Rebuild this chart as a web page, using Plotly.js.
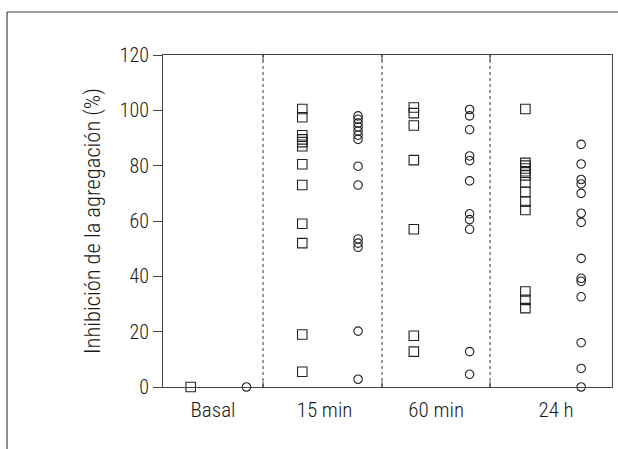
<!DOCTYPE html>
<html>
<head>
<meta charset="utf-8">
<script src="https://cdn.plot.ly/plotly-3.0.1.min.js"></script>
<style>
  html, body { margin: 0; padding: 0; background: #fff; }
  #chart { width: 618px; height: 449px; }
</style>
</head>
<body>
<div id="chart"></div>
<script>
// Categories (time points)
var categories = ["Basal", "15 min", "60 min", "24 h"];

// Group 1 (squares) values per time point
var squaresBasal = [0];
var squares15 = [100.5, 97.5, 91, 89.5, 88.5, 87, 80.5, 73, 59, 52, 19, 5.5];
var squares60 = [101, 99, 94.5, 82, 57, 18.5, 12.8];
var squares24 = [100.5, 81, 80, 79, 78, 76.5, 74, 70.5, 67, 64, 34.5, 31.5, 28.5];

// Group 2 (circles) values per time point
var circlesBasal = [0];
var circles15 = [98, 96.8, 95.4, 94, 92.5, 91, 89.5, 79.8, 73, 53.5, 52, 50.5, 20.2, 2.8];
var circles60 = [100.3, 98, 93, 83.5, 81.8, 74.5, 62.6, 60.5, 57, 12.8, 4.6];
var circles24 = [87.7, 80.6, 75, 73.4, 70, 62.8, 59.5, 46.5, 39.3, 38.2, 32.6, 16, 6.7, 0];

// Tick / layout helpers
var yTicks = [0, 20, 40, 60, 80, 100, 120];
var labelPos = [0.4, 2.4, 4.4, 6.55];
var dividers = [1.297, 3.43, 5.367];

var squareSets = [squaresBasal, squares15, squares60, squares24];
var circleSets = [circlesBasal, circles15, circles60, circles24];

function expand(sets, offset) {
  var xs = [], ys = [];
  sets.forEach(function (vals, i) {
    vals.forEach(function (v) { xs.push(2 * i + offset); ys.push(v); });
  });
  return { x: xs, y: ys };
}
var sq = expand(squareSets, 0);
var ci = expand(circleSets, 1);

var ink = "#222";
var txt = "#1a1a1a";
var fontFam = "'Roboto Condensed', 'Arial Narrow', sans-serif";

var traces = [
  {
    x: sq.x, y: sq.y, type: "scatter", mode: "markers", cliponaxis: false,
    marker: { symbol: "square-open", size: 9.5, color: ink, line: { width: 1.1, color: ink } },
    hoverinfo: "y", showlegend: false
  },
  {
    x: ci.x, y: ci.y, type: "scatter", mode: "markers", cliponaxis: false,
    marker: { symbol: "circle-open", size: 8.5, color: ink, line: { width: 1.1, color: ink } },
    hoverinfo: "y", showlegend: false
  }
];

var shapes = [];
dividers.forEach(function (d) {
  shapes.push({ type: "line", xref: "x", yref: "y", x0: d, x1: d, y0: 0, y1: 120,
    line: { color: "#333", width: 1, dash: "dot" } });
  shapes.push({ type: "line", xref: "x", yref: "y", x0: d, x1: d, y0: 120, y1: 118,
    line: { color: "#333", width: 1 } });
  shapes.push({ type: "line", xref: "x", yref: "y", x0: d, x1: d, y0: 0, y1: 2,
    line: { color: "#333", width: 1 } });
});
// outer frame (left and top edges)
shapes.push({ type: "line", xref: "paper", yref: "paper", x0: -0.3474, x1: -0.3474, y0: -0.2, y1: 1.1295,
  line: { color: "#444", width: 1.2 } });
shapes.push({ type: "line", xref: "paper", yref: "paper", x0: -0.3474, x1: 1.02, y0: 1.1295, y1: 1.1295,
  line: { color: "#444", width: 1.2 } });

var layout = {
  width: 618, height: 449,
  margin: { l: 163, r: 6, t: 55, b: 62 },
  paper_bgcolor: "#fff", plot_bgcolor: "#fff",
  font: { family: fontFam, size: 20, color: txt, weight: 300 },
  showlegend: false,
  xaxis: {
    range: [-0.497, 7.553],
    tickmode: "array", tickvals: labelPos, ticktext: categories,
    ticks: "", showgrid: false, zeroline: false, ticklabelstandoff: 4,
    showline: true, linecolor: "#444", linewidth: 1, mirror: true,
    tickfont: { family: fontFam, size: 21, color: txt, weight: 300 }
  },
  yaxis: {
    range: [0, 120],
    tickmode: "array", tickvals: yTicks,
    ticks: "outside", ticklen: 9, tickwidth: 1, tickcolor: "#444",
    showgrid: false, zeroline: false,
    showline: true, linecolor: "#444", linewidth: 1, mirror: true,
    tickfont: { family: fontFam, size: 20, color: txt, weight: 300 },
    title: { text: "Inhibición de la agregación (%)", font: { family: fontFam, size: 22.5, color: txt, weight: 300 }, standoff: 12 }
  },
  shapes: shapes
};

Plotly.newPlot("chart", traces, layout, { displayModeBar: false, staticPlot: true });
</script>
</body>
</html>
